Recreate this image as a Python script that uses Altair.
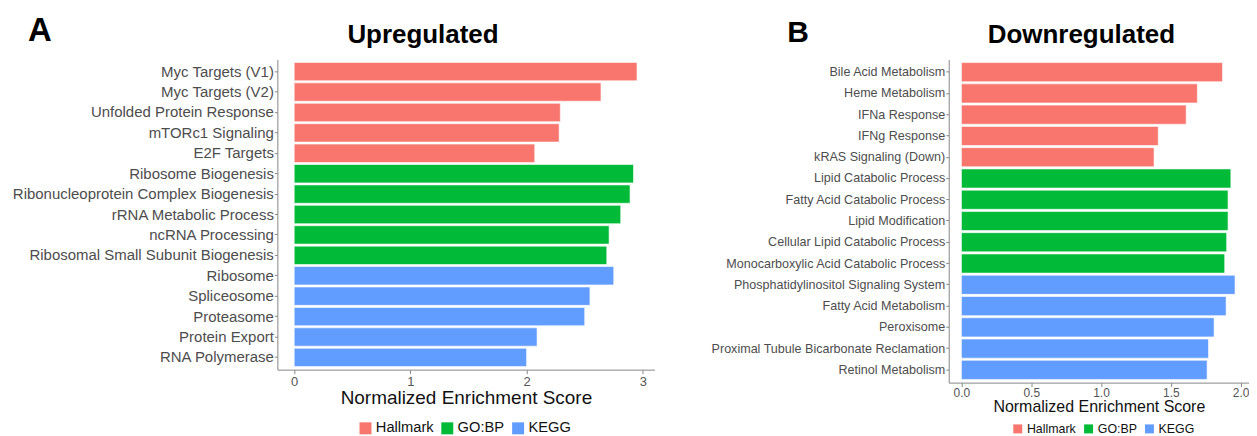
import altair as alt
import pandas as pd

FONT = "Liberation Sans"
DBS = ["Hallmark", "GO:BP", "KEGG"]
COLORS = ["#F8766D", "#00BA38", "#619CFF"]

termsA = ["Myc Targets (V1)", "Myc Targets (V2)", "Unfolded Protein Response", "mTORc1 Signaling",
          "E2F Targets", "Ribosome Biogenesis", "Ribonucleoprotein Complex Biogenesis",
          "rRNA Metabolic Process", "ncRNA Processing", "Ribosomal Small Subunit Biogenesis",
          "Ribosome", "Spliceosome", "Proteasome", "Protein Export", "RNA Polymerase"]
scoresA = [2.95, 2.64, 2.29, 2.28, 2.07, 2.92, 2.89, 2.81, 2.71, 2.69, 2.75, 2.545, 2.50, 2.09, 2.00]
dbA = ["Hallmark"] * 5 + ["GO:BP"] * 5 + ["KEGG"] * 5

termsB = ["Bile Acid Metabolism", "Heme Metabolism", "IFNa Response", "IFNg Response",
          "kRAS Signaling (Down)", "Lipid Catabolic Process", "Fatty Acid Catabolic Process",
          "Lipid Modification", "Cellular Lipid Catabolic Process", "Monocarboxylic Acid Catabolic Process",
          "Phosphatidylinositol Signaling System", "Fatty Acid Metabolism", "Peroxisome",
          "Proximal Tubule Bicarbonate Reclamation", "Retinol Metabolism"]
scoresB = [1.87, 1.69, 1.61, 1.41, 1.38, 1.93, 1.91, 1.91, 1.90, 1.886, 1.96, 1.896, 1.81, 1.77, 1.76]
dbB = ["Hallmark"] * 5 + ["GO:BP"] * 5 + ["KEGG"] * 5


def panel(terms, scores, dbs, domain, ticks, fmt, w, h, lab_size, tick_size, title_size, lab_pad,
          leg_x, leg_y, leg_size, sym, letter, letter_x, letter_y, letter_size, title, title_x, title_y):
    df = pd.DataFrame({"term": terms, "score": scores, "db": dbs})
    bars = alt.Chart(df).mark_bar(stroke="white", strokeWidth=0.6).encode(
        x=alt.X("score:Q",
                scale=alt.Scale(domain=domain, nice=False, zero=False),
                axis=alt.Axis(values=ticks, format=fmt, title="Normalized Enrichment Score",
                              titleFont=FONT, titleFontSize=title_size, titleFontWeight="normal",
                              titleColor="#111", titlePadding=0,
                              labelFont=FONT, labelFontSize=tick_size, labelColor="#555",
                              domainColor="#888", tickColor="#888", tickSize=4, labelPadding=lab_pad,
                              grid=False)),
        y=alt.Y("term:N", sort=terms,
                scale=alt.Scale(paddingInner=0.1, paddingOuter=0.15),
                axis=alt.Axis(title=None, labelFont=FONT, labelFontSize=lab_size, labelColor="#4d4d4d",
                              domainColor="#888", tickColor="#888", tickSize=3, labelPadding=1,
                              labelLimit=0, grid=False)),
        color=alt.Color("db:N", scale=alt.Scale(domain=DBS, range=COLORS),
                        legend=alt.Legend(orient="none", legendX=leg_x, legendY=leg_y,
                                          direction="horizontal", title=None, symbolType="square",
                                          symbolSize=sym * sym, symbolStrokeWidth=0,
                                          labelFont=FONT, labelFontSize=leg_size, labelColor="#111",
                                          columnPadding=6, labelOffset=3)),
    )
    let = alt.Chart(pd.DataFrame({"t": [letter]})).mark_text(
        font=FONT, fontSize=letter_size, fontWeight="bold", color="black", align="center",
        baseline="alphabetic"
    ).encode(x=alt.value(letter_x), y=alt.value(letter_y), text="t:N")
    tit = alt.Chart(pd.DataFrame({"t": [title]})).mark_text(
        font=FONT, fontSize=26, fontWeight="bold", color="black", align="center", baseline="alphabetic"
    ).encode(x=alt.value(title_x), y=alt.value(title_y), text="t:N")
    return alt.layer(bars, let, tit).properties(width=w, height=h)


A = panel(termsA, scoresA, dbA, [-0.145, 3.1], [0, 1, 2, 3], "d", 378, 311, 15, 13, 19, 2,
          81, 362, 14.7, 12, "A", -238, -18.6, 33, "Upregulated", 146, -16.6)
B = panel(termsB, scoresB, dbB, [-0.091, 2.06], [0, 0.5, 1.0, 1.5, 2.0], ".1f", 301, 324, 12.6, 12, 16, 1,
          63, 364, 12.4, 9, "B", -151, -17.6, 30, "Downregulated", 133, -16)

chart = alt.hconcat(A, B, spacing=56).resolve_scale(color="independent").resolve_legend(
    color="independent").properties(padding={"left": 4, "top": 6, "right": 0, "bottom": 0}
).configure_view(stroke=None)

chart.save("out.html", embed_options={"renderer": "svg", "actions": False})
